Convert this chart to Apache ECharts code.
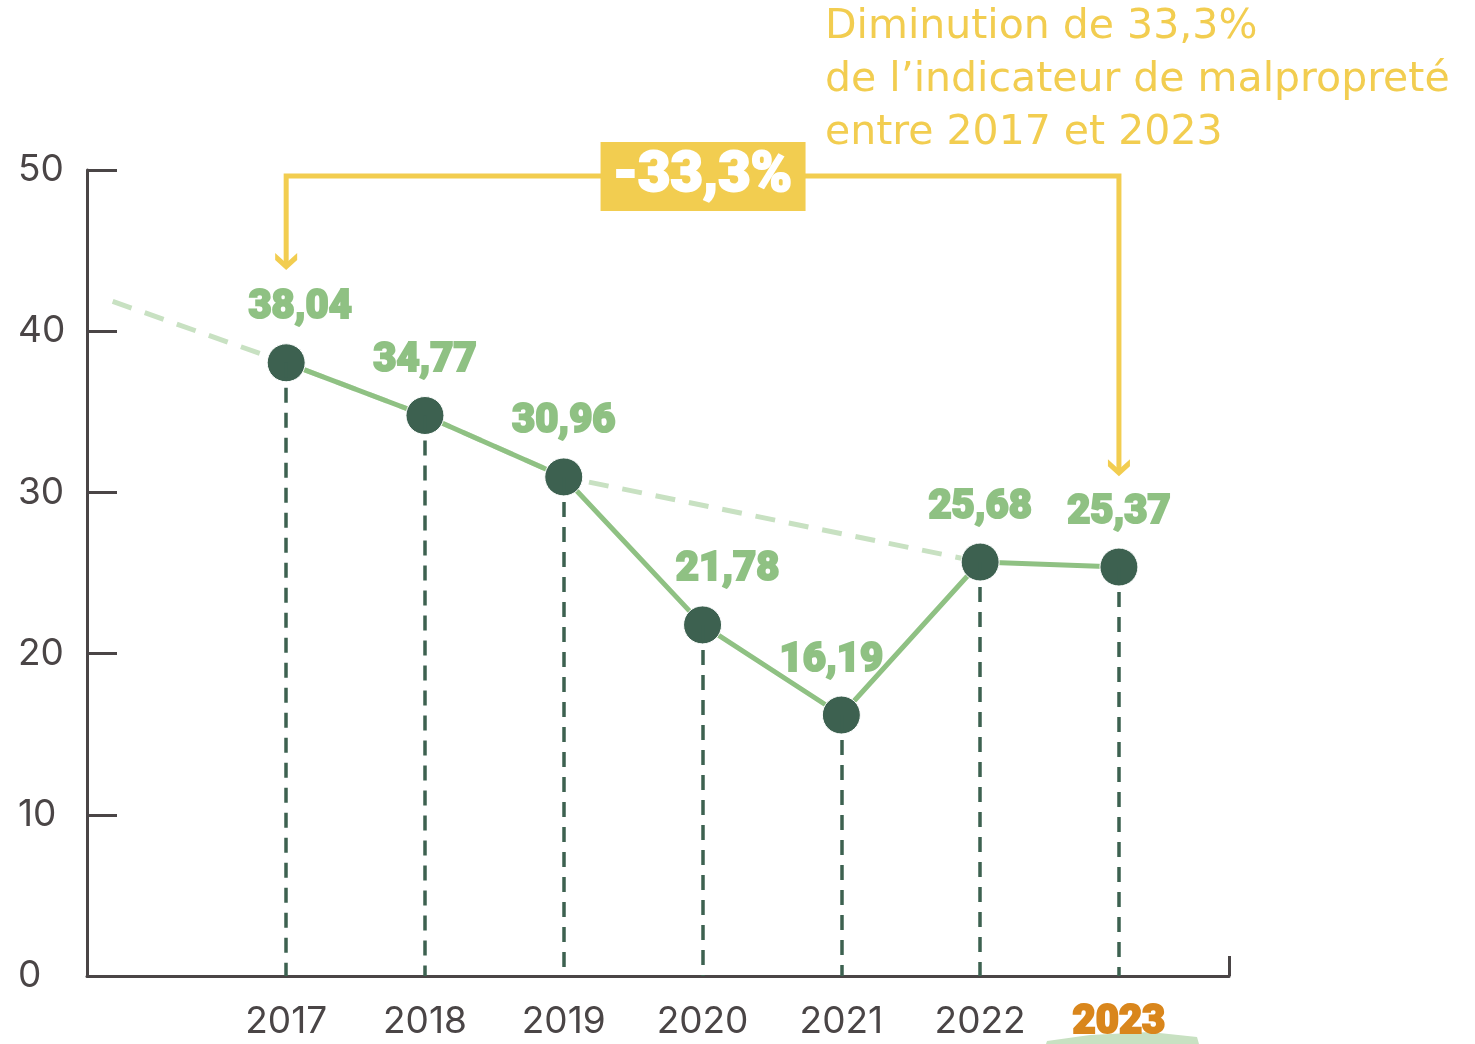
<!DOCTYPE html>
<html>
<head>
<meta charset="utf-8">
<script src="https://cdn.jsdelivr.net/npm/echarts@6/dist/echarts.min.js"></script>
<style>
  html, body { margin: 0; padding: 0; background: #fff; }
  #chart { width: 1475px; height: 1044px; }
</style>
</head>
<body>
<div id="chart"></div>
<script>
  // données de l'indicateur de malpropreté
  var years = [2017, 2018, 2019, 2020, 2021, 2022, 2023];
  var values = [38.04, 34.77, 30.96, 21.78, 16.19, 25.68, 25.37];
  var yTicks = [0, 10, 20, 30, 40, 50];
  // tendance en pointillés (point de départ à gauche)
  var trendYears = [2015.75, 2017, 2018, 2019, 2022];
  var trendValues = [41.85, 38.04, 34.77, 30.96, 25.68];
  var titleLines = ['Diminution de 33,3%', 'de l\u2019indicateur de malpropreté', 'entre 2017 et 2023'];
  var changeLabel = '-33,3%';
  var highlightYear = 2023;

  var GREY = '#4a4546';
  var DARK = '#3d6150';
  var GREEN = '#8fc183';
  var PALE = '#c8e1c2';
  var YELLOW = '#f2cd50';
  var ORANGE = '#d9861c';
  var FONT = 'Inter, "Noto Sans", sans-serif';
  var HEAVY = 'Roboto, Lato, sans-serif';

  var xMin = 2015.565, xMax = 2023.793;

  // petits décalages des étiquettes, comme sur l'original
  var labelShift = { 2017: [14, 0], 2020: [25, 0], 2021: [-10, 0] };

  function fmt(v) { return v.toFixed(2).replace('.', ','); }

  var lineData = years.map(function (y, i) {
    return {
      value: [y, values[i]],
      label: { offset: labelShift[y] || [0, 0] }
    };
  });
  var trendData = trendYears.map(function (y, i) { return [y, trendValues[i]]; });
  var dropLines = years.map(function (y, i) {
    return [{ coord: [y, values[i]] }, { coord: [y, 0] }];
  });

  var myChart = echarts.init(document.getElementById('chart'));

  var option = {
    animation: false,
    grid: { left: 87, right: 246, top: 170, bottom: 64 },
    xAxis: {
      type: 'value',
      min: xMin,
      max: xMax,
      splitLine: { show: false },
      axisLine: { show: true, lineStyle: { color: GREY, width: 3 } },
      axisTick: {
        show: true, inside: true, length: 20,
        customValues: [xMax],
        lineStyle: { color: GREY, width: 3 }
      },
      axisLabel: {
        customValues: years,
        margin: 27,
        formatter: function (v) {
          return v === highlightYear ? '{hl|' + v + '}' : '{n|' + v + '}';
        },
        rich: {
          n: { fontFamily: FONT, fontSize: 37, color: GREY, fontWeight: 400 },
          hl: {
            fontFamily: HEAVY, fontSize: 40, color: ORANGE, fontWeight: 900,
            textBorderColor: ORANGE, textBorderWidth: 2
          }
        }
      }
    },
    yAxis: {
      type: 'value',
      min: 0,
      max: 50,
      interval: 10,
      splitLine: { show: false },
      axisLine: { show: true, lineStyle: { color: GREY, width: 3 } },
      axisTick: { show: true, inside: true, length: 30, lineStyle: { color: GREY, width: 3 } },
      axisLabel: {
        customValues: yTicks,
        align: 'left',
        margin: 69,
        padding: [0, 0, 12, 0],
        fontFamily: FONT,
        fontSize: 37,
        color: GREY
      }
    },
    series: [
      {
        name: 'tendance',
        type: 'line',
        data: trendData,
        symbol: 'none',
        z: 1,
        lineStyle: { color: PALE, width: 5, type: [20, 14] },
        silent: true
      },
      {
        name: 'repères',
        type: 'line',
        data: [],
        z: 2,
        markLine: {
          silent: true,
          symbol: 'none',
          label: { show: false },
          lineStyle: { color: DARK, width: 3.5, type: [15, 10] },
          data: dropLines
        }
      },
      {
        name: 'indicateur',
        type: 'line',
        data: lineData,
        z: 3,
        symbol: 'circle',
        symbolSize: 38,
        showAllSymbol: true,
        lineStyle: { color: GREEN, width: 5 },
        itemStyle: { color: DARK, borderColor: '#fff', borderWidth: 1 },
        label: {
          show: true,
          position: 'top',
          distance: 15,
          formatter: function (p) { return fmt(p.value[1]); },
          fontFamily: HEAVY,
          fontWeight: 900,
          fontSize: 40,
          color: GREEN,
          textBorderColor: GREEN,
          textBorderWidth: 2
        }
      }
    ]
  };

  myChart.setOption(option);

  // annotation : crochet jaune + encadré
  (function () {
    function px(x, y) { return myChart.convertToPixel({ gridIndex: 0 }, [x, y]); }
    var bracketY = px(years[0], 49.63)[1];
    var leftTip = px(years[0], 43.8);
    var rightTip = px(years[years.length - 1], 31.0);
    var midX = px(2020, 0)[0];

    function chevron(x, y) {
      return {
        type: 'polygon',
        shape: { points: [[x - 11, y - 17], [x, y - 7], [x + 11, y - 17], [x + 11, y - 10], [x, y], [x - 11, y - 10]] },
        style: { fill: YELLOW },
        z: 10
      };
    }

    myChart.setOption({
      graphic: [
        {
          type: 'polyline',
          shape: { points: [[leftTip[0], leftTip[1] - 4], [leftTip[0], bracketY], [rightTip[0], bracketY], [rightTip[0], rightTip[1] - 4]] },
          style: { stroke: YELLOW, lineWidth: 5, fill: 'none' },
          z: 10
        },
        chevron(leftTip[0], leftTip[1]),
        chevron(rightTip[0], rightTip[1]),
        {
          type: 'rect',
          shape: { x: midX - 102, y: bracketY - 34, width: 205, height: 69 },
          style: { fill: YELLOW },
          z: 11
        },
        {
          type: 'text',
          x: midX,
          y: bracketY + 1,
          style: {
            text: changeLabel,
            fill: '#fff',
            fontFamily: HEAVY,
            fontWeight: 900,
            fontSize: 56,
            align: 'center',
            verticalAlign: 'middle',
            stroke: '#fff',
            lineWidth: 2
          },
          z: 12
        },
        {
          type: 'text',
          x: 825,
          y: 1,
          style: {
            text: titleLines.join('\n'),
            fill: YELLOW,
            fontFamily: '"DejaVu Sans", sans-serif',
            fontSize: 41,
            lineHeight: 53
          },
          z: 12
        },
        {
          // trait de pinceau sous 2023
          type: 'polygon',
          shape: { points: [[1047, 1041], [1090, 1035], [1150, 1032], [1197, 1037], [1199, 1044], [1046, 1044]] },
          style: { fill: PALE },
          z: 0
        }
      ]
    });
  })();
</script>
</body>
</html>
